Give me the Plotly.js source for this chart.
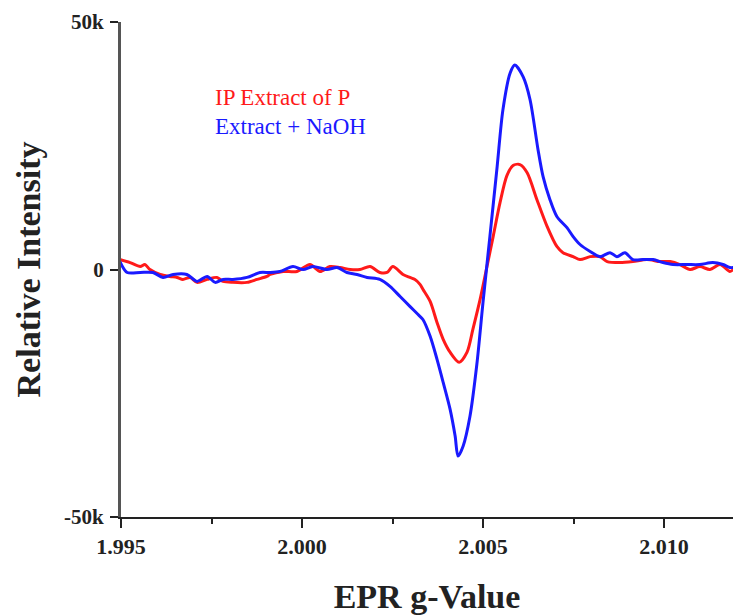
<!DOCTYPE html>
<html>
<head>
<meta charset="utf-8">
<script src="https://cdn.plot.ly/plotly-3.0.1.min.js"></script>
<style>html,body{margin:0;padding:0;background:#fff;}#chart{width:733px;height:615px;}</style>
</head>
<body>
<div id="chart"></div>
<script>
// EPR g-values and relative intensities
const redG = [1.99497,1.99525,1.99553,1.99566,1.99580,1.99608,1.99635,1.99655,1.99671,1.99691,1.99710,1.99738,1.99765,1.99782,1.99809,1.99848,1.99876,1.99903,1.99912,1.99948,1.99986,2.00022,2.00050,2.00077,2.00105,2.00133,2.00160,2.00188,2.00215,2.00235,2.00251,2.00279,2.00298,2.00312,2.00326,2.00334,2.00354,2.00373,2.00390,2.00409,2.00434,2.00456,2.00472,2.00492,2.00511,2.00528,2.00547,2.00566,2.00583,2.00602,2.00622,2.00649,2.00677,2.00704,2.00721,2.00749,2.00768,2.00796,2.00823,2.00843,2.00878,2.00914,2.00953,2.00989,2.01017,2.01044,2.01072,2.01099,2.01127,2.01155,2.01182,2.01191];
const redV = [2000,1400,600,1000,0,-1000,-1400,-1600,-2000,-1600,-2600,-2000,-1600,-2400,-2600,-2600,-2000,-1400,-1000,-400,-400,1000,-400,600,400,0,0,600,-600,-600,600,-1000,-1600,-2000,-3000,-4000,-6450,-10700,-14100,-16700,-18750,-16700,-12100,-6050,600,6650,13500,18950,21000,21200,19550,14100,8700,4650,3400,2600,2000,2600,2600,1600,1400,1600,2000,1600,1600,1000,0,600,0,1000,-400,0];

const blueG = [1.99497,1.99517,1.99553,1.99588,1.99616,1.99644,1.99682,1.99710,1.99738,1.99760,1.99782,1.99809,1.99848,1.99884,1.99912,1.99939,1.99975,2.00003,2.00030,2.00069,2.00097,2.00124,2.00152,2.00180,2.00215,2.00243,2.00271,2.00298,2.00320,2.00334,2.00354,2.00373,2.00390,2.00409,2.00423,2.00431,2.00445,2.00464,2.00483,2.00500,2.00519,2.00539,2.00555,2.00575,2.00588,2.00611,2.00630,2.00652,2.00666,2.00685,2.00704,2.00732,2.00749,2.00768,2.00796,2.00823,2.00851,2.00870,2.00892,2.00914,2.00942,2.00970,2.00997,2.01025,2.01064,2.01099,2.01135,2.01163,2.01182,2.01191];
const blueV = [1600,-600,-600,-600,-1600,-1000,-1000,-2400,-1400,-2600,-2000,-2000,-1600,-600,-600,-400,600,0,600,0,400,-600,-1000,-1600,-2000,-3400,-5450,-7450,-9050,-10100,-13500,-18150,-22800,-28200,-33650,-37700,-35700,-29650,-19150,-6650,6650,20750,32250,39700,41300,38900,34300,24200,18750,14100,10700,8450,6650,5050,3650,2600,3400,2600,3400,2000,2000,2000,1400,1000,1000,1000,1400,1000,400,400];

const seriesNames = ["IP Extract of P", "Extract + NaOH"];
const yTickVals = [-50000, 0, 50000];
const yTickText = ["-50k", "0", "50k"];
const xTickVals = [1.995, 2.000, 2.005, 2.010];
const xTickText = ["1.995", "2.000", "2.005", "2.010"];

const serif = "Liberation Serif, Times New Roman, serif";

const traces = [
  {x: redG, y: redV, type: "scatter", mode: "lines", name: seriesNames[0],
   line: {color: "#ff1a1a", width: 3, shape: "spline", smoothing: 0.8}},
  {x: blueG, y: blueV, type: "scatter", mode: "lines", name: seriesNames[1],
   line: {color: "#1a1aff", width: 3, shape: "spline", smoothing: 0.8}}
];

const layout = {
  width: 733, height: 615,
  margin: {l: 121, r: 0, t: 22, b: 98},
  paper_bgcolor: "#fff", plot_bgcolor: "#fff",
  showlegend: false,
  xaxis: {
    range: [1.995, 2.011906],
    showgrid: false, zeroline: false,
    showline: true, linecolor: "#222", linewidth: 2,
    tickmode: "array", tickvals: xTickVals, ticktext: xTickText,
    ticks: "outside", ticklen: 9, tickwidth: 2, tickcolor: "#222",
    minor: {dtick: 0.0025, tick0: 1.995, ticks: "outside", ticklen: 5, tickwidth: 2, tickcolor: "#222", showgrid: false},
    tickfont: {family: serif, size: 22, color: "#222", weight: "bold"},
    title: {text: "<b>EPR g-Value</b>", font: {family: serif, size: 34, color: "#222"}, standoff: 26}
  },
  yaxis: {
    range: [-50000, 50000],
    showgrid: false, zeroline: false,
    showline: true, linecolor: "#555", linewidth: 3,
    tickmode: "array", tickvals: yTickVals, ticktext: yTickText,
    ticks: "outside", ticklen: 8, tickwidth: 2, tickcolor: "#222",
    ticklabelstandoff: 2,
    tickfont: {family: serif, size: 21, color: "#222", weight: "bold"},
    title: {text: "<b>Relative Intensity</b>", font: {family: serif, size: 34, color: "#222"}, standoff: 14}
  },
  annotations: [
    {xref: "paper", yref: "paper", x: 0.150, y: 0.848, xanchor: "left", yanchor: "middle", showarrow: false,
     text: seriesNames[0], font: {family: serif, size: 23, color: "#ff1a1a"}},
    {xref: "paper", yref: "paper", x: 0.150, y: 0.788, xanchor: "left", yanchor: "middle", showarrow: false,
     text: seriesNames[1], font: {family: serif, size: 23, color: "#1a1aff"}}
  ]
};

Plotly.newPlot("chart", traces, layout, {staticPlot: true, displayModeBar: false});
</script>
</body>
</html>
